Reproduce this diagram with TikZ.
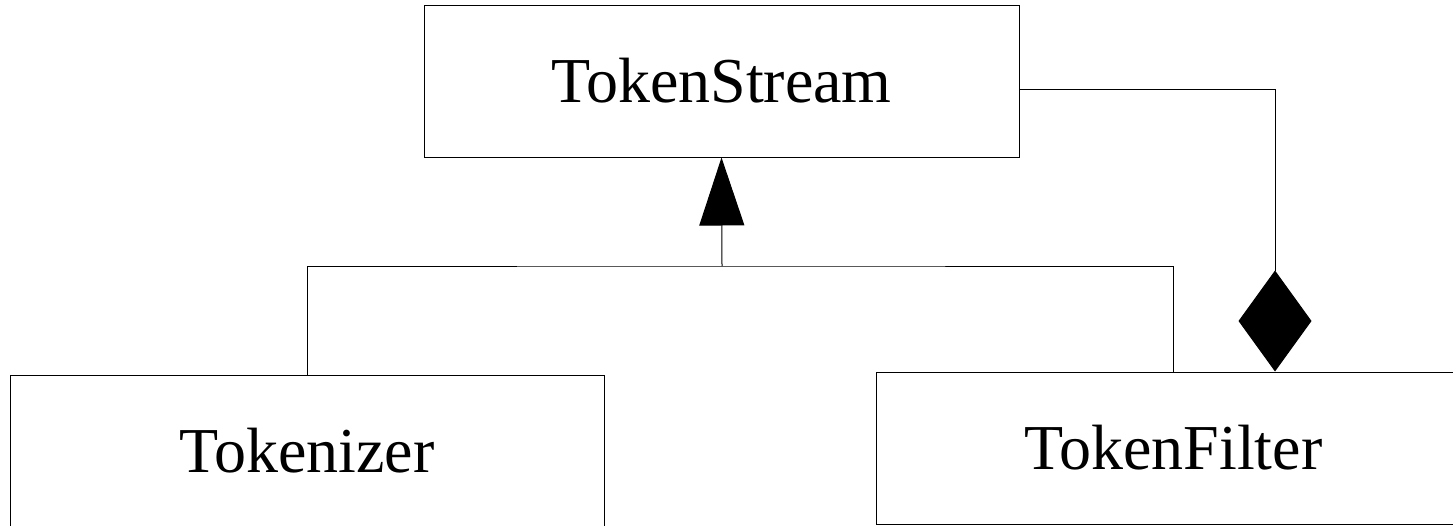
\documentclass[tikz,border=0pt]{standalone}
\usepackage{fontspec}
\setmainfont{Liberation Serif}
\usetikzlibrary{arrows.meta}
\begin{document}
\begin{tikzpicture}[x=1pt,y=-1pt,
  classbox/.style={draw=black,line width=1pt,minimum width=595pt,minimum height=152pt,inner sep=0pt,
    font=\fontsize{64}{76}\selectfont},
  conn/.style={draw=black,line width=1pt}]
\useasboundingbox (0,0) rectangle (1453,525);
\node[classbox] (TS) at (721.5,81) {TokenStream};
\node[classbox,minimum width=594pt] (TK) at (307,451) {Tokenizer};
\node[classbox] (TF) at (1173.5,448) {TokenFilter};
\coordinate (bus) at (722,266);
\coordinate (agg) at ([xshift=101.5pt]TF.north);
\draw[conn] (TK.north) |- (bus) -| (TF.north);
\draw[conn,-{Triangle[length=68pt,width=45pt,fill=black]}] (bus) -- (TS.south);
\draw[conn,-{Diamond[length=101pt,width=73pt,fill=black]}] ([yshift=-8pt]TS.east) -| (agg);
\end{tikzpicture}
\end{document}
